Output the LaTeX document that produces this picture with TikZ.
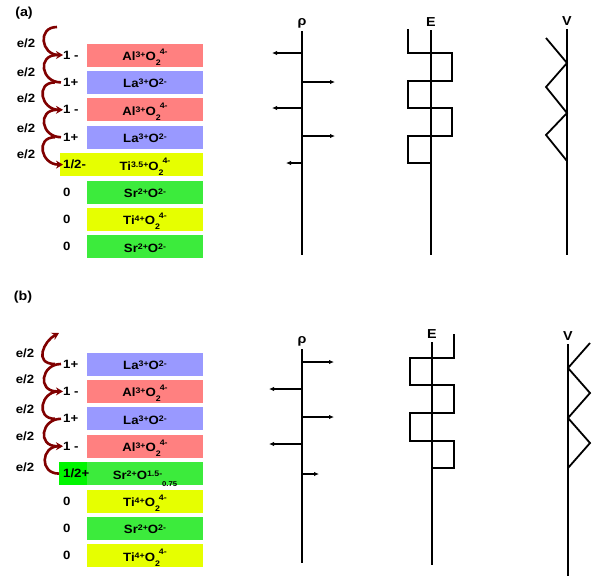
\documentclass[tikz,border=0pt]{standalone}
\usepackage{fontspec}
\setmainfont{Liberation Sans}[FakeStretch=1.1]
\usetikzlibrary{arrows.meta}
\definecolor{alred}{RGB}{255,128,128}
\definecolor{lablue}{RGB}{153,153,255}
\definecolor{tiyel}{RGB}{230,255,0}
\definecolor{srgreen}{RGB}{60,235,60}
\definecolor{brightgreen}{RGB}{0,245,0}
\definecolor{hopred}{RGB}{128,0,0}
\newcommand{\up}[1]{\raisebox{3pt}{\fontsize{8}{8}\selectfont #1}}
\newcommand{\upp}[1]{\raisebox{6.5pt}{\fontsize{8}{8}\selectfont #1}}
\newcommand{\dn}[1]{\raisebox{-5pt}{\fontsize{8}{8}\selectfont #1}}
\newcommand{\dnn}[1]{\raisebox{-7pt}{\fontsize{7}{7}\selectfont #1}}
\tikzset{
 txt/.style={font=\bfseries\fontsize{12}{14}\selectfont},
 big/.style={font=\bfseries\fontsize{13}{15}\selectfont},
 slab/.style={txt, rectangle, minimum width=116pt, minimum height=23pt, inner sep=0pt,
   text height=11pt, text depth=0pt},
 charge/.style={anchor=west, inner sep=0pt, font=\bfseries\fontsize{12}{14}\selectfont},
 hop/.style={draw=hopred, line width=2.6pt},
 headed/.style={-{Stealth[length=7pt,width=8pt]}},
 stem/.style={line width=1.8pt},
 field/.style={line width=1.4pt, -{Latex[length=5pt,width=4.5pt]}}
}
\begin{document}
\begin{tikzpicture}[x=1pt,y=-1pt]
 \useasboundingbox (0,0) rectangle (601,576);
 % (a) AlO2 terminated
 \node[big] (pa) at (24,13) {(a)};
 \fill[tiyel] (60,153.1) rectangle (88,176.1);
 \foreach \y/\c/\t/\q [count=\n] in {55/alred/{Al\up{3+}O\dn{2}\kern-1pt\upp{4-}}/{1 -},
   82.4/lablue/{La\up{3+}O\up{2-}}/{1+},
   109.8/alred/{Al\up{3+}O\dn{2}\kern-1pt\upp{4-}}/{1 -},
   137.2/lablue/{La\up{3+}O\up{2-}}/{1+},
   164.6/tiyel/{Ti\up{3.5+}O\dn{2}\kern-1pt\upp{4-}}/{1/2-},
   192/srgreen/{Sr\up{2+}O\up{2-}}/{0},
   219.4/tiyel/{Ti\up{4+}O\dn{2}\kern-1pt\upp{4-}}/{0},
   246.8/srgreen/{Sr\up{2+}O\up{2-}}/{0}}
 {
  \node[slab, fill=\c] (a\n) at (145,\y) {\t};
  \node[charge] (qa\n) at (63,\y) {\q};
 }
 \foreach \y [count=\n] in {43,72,98,128,154}
  \node[txt] (hopa\n) at (26,\y) {e/2};
 \coordinate (ta) at (57,27);
 \draw[hop,headed] (ta) .. controls +(-20,0) and +(-22,0) .. (qa1.west);
 \draw[hop] ([xshift=-6pt]qa1.west) .. controls +(-20,0) and +(-20,0) .. ([xshift=-2pt]qa2.west);
 \draw[hop,headed] ([xshift=-8pt]qa2.west) .. controls +(-20,0) and +(-22,0) .. (qa3.west);
 \draw[hop] ([xshift=-6pt]qa3.west) .. controls +(-20,0) and +(-20,0) .. ([xshift=-2pt]qa4.west);
 \draw[hop,headed] ([xshift=-8pt]qa4.west) .. controls +(-20,0) and +(-22,0) .. (qa5.west);

 \node[big] (rhoa) at (302,23) {ρ};
 \coordinate (rhoa0) at (302,255);
 \draw[stem] (rhoa) -- (rhoa0);
 \foreach \y/\x in {53/272, 82/335, 108/272, 136/335, 163/286}
  \draw[field] (302,\y) -- (\x,\y);
 \node[big] (ea) at (431,22) {E};
 \coordinate (ea0) at (431,255);
 \draw[stem] (ea) -- (ea0);
 \draw[stem] (408,29) |- (452,53) |- (408,81) |- (452,108) |- (408,136) |- (431,163);
 \node[big] (va) at (567,21) {V};
 \coordinate (va0) at (567,255);
 \draw[stem] (va) -- (va0);
 \draw[stem] (546,38) -- (567,63) -- (546,87) -- (567,113) -- (546,135) -- (567,161);

 % (b) SrO terminated
 \node[big] (pb) at (23,297) {(b)};
 \fill[brightgreen] (59,462.1) rectangle (88,485.1);
 \foreach \y/\c/\t/\q [count=\n] in {364/lablue/{La\up{3+}O\up{2-}}/{1+},
   391.4/alred/{Al\up{3+}O\dn{2}\kern-1pt\upp{4-}}/{1 -},
   418.8/lablue/{La\up{3+}O\up{2-}}/{1+},
   446.2/alred/{Al\up{3+}O\dn{2}\kern-1pt\upp{4-}}/{1 -},
   473.6/srgreen/{Sr\up{2+}O\up{1.5-}\dnn{0.75}}/{1/2+},
   501/tiyel/{Ti\up{4+}O\dn{2}\kern-1pt\upp{4-}}/{0},
   528.4/srgreen/{Sr\up{2+}O\up{2-}}/{0},
   555.8/tiyel/{Ti\up{4+}O\dn{2}\kern-1pt\upp{4-}}/{0}}
 {
  \node[slab, fill=\c] (b\n) at (145,\y) {\t};
  \node[charge] (qb\n) at (63,\y) {\q};
 }
 \foreach \y [count=\n] in {353,379,409,436,467}
  \node[txt] (hopb\n) at (25,\y) {e/2};
 \coordinate (tb) at (59,333);
 \draw[hop,headed] ([xshift=-4pt]qb5.west) .. controls +(-20,0) and +(-22,0) .. (qb4.west);
 \draw[hop] ([xshift=-6pt]qb4.west) .. controls +(-20,0) and +(-20,0) .. ([xshift=-2pt]qb3.west);
 \draw[hop,headed] ([xshift=-8pt]qb3.west) .. controls +(-20,0) and +(-22,0) .. (qb2.west);
 \draw[hop] ([xshift=-6pt]qb2.west) .. controls +(-20,0) and +(-20,0) .. ([xshift=-2pt]qb1.west);
 \draw[hop,headed] ([xshift=-8pt]qb1.west) .. controls +(-22,0) and +(-15,8) .. (tb);

 \node[big] (rhob) at (302,341) {ρ};
 \coordinate (rhob0) at (302,563);
 \draw[stem] (rhob) -- (rhob0);
 \foreach \y/\x in {362/334, 389/269, 417/334, 444/269, 474/319}
  \draw[field] (302,\y) -- (\x,\y);
 \node[big] (eb) at (432,334) {E};
 \coordinate (eb0) at (432,565);
 \draw[stem] (eb) -- (eb0);
 \draw[stem] (454,334) |- (410,358) |- (454,385) |- (410,413) |- (454,441) |- (432,468);
 \node[big] (vb) at (568,336) {V};
 \coordinate (vb0) at (568,576);
 \draw[stem] (vb) -- (vb0);
 \draw[stem] (590,343) -- (568,368) -- (590,393) -- (568,418) -- (590,443) -- (568,468);
\end{tikzpicture}
\end{document}
